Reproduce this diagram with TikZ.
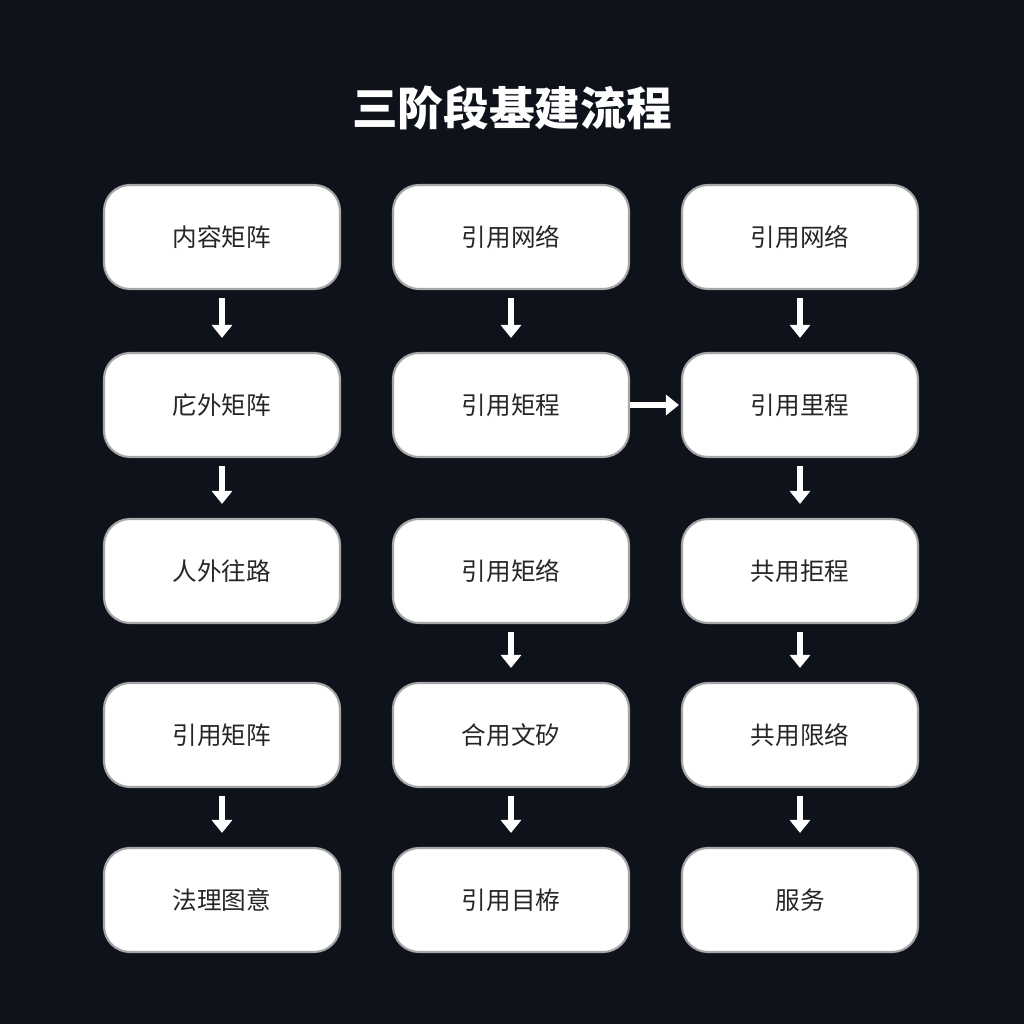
\documentclass[tikz,border=0pt]{standalone}
\usepackage{fontspec}
\setmainfont{Noto Sans CJK SC}
\usetikzlibrary{arrows.meta}
\definecolor{bgdark}{HTML}{0D121B}
\tikzset{
  stage/.style={draw=gray!70,line width=0.6pt,fill=white,rounded corners=0.26cm,
    minimum width=2.36cm,minimum height=1.04cm,font=\fontsize{7}{8}\selectfont,text=black!85},
  flowarrow/.style={-{Triangle[length=0.13cm,width=0.2cm]},white,line width=1.6pt,shorten <=0.08cm,shorten >=0.14cm}
}
\begin{document}
\begin{tikzpicture}
        \fill[bgdark] (0,0) rectangle (10.24,10.24);
        \useasboundingbox (0,0) rectangle (10.24,10.24);
        \node[white,font=\bfseries\fontsize{13}{15}\selectfont] (title) at (5.12,9.16) {三阶段基建流程};
        % column 1
        \node[stage] (a1) at (2.22,7.87) {内容矩阵};
        \node[stage] (a2) at (2.22,6.19) {庀外矩阵};
        \node[stage] (a3) at (2.22,4.53) {人外往路};
        \node[stage] (a4) at (2.22,2.89) {引用矩阵};
        \node[stage] (a5) at (2.22,1.24) {法理图意};
        % column 2
        \node[stage] (b1) at (5.11,7.87) {引用网络};
        \node[stage] (b2) at (5.11,6.19) {引用矩程};
        \node[stage] (b3) at (5.11,4.53) {引用矩络};
        \node[stage] (b4) at (5.11,2.89) {合用文矽};
        \node[stage] (b5) at (5.11,1.24) {引用目栫};
        % column 3
        \node[stage] (c1) at (8.00,7.87) {引用网络};
        \node[stage] (c2) at (8.00,6.19) {引用里程};
        \node[stage] (c3) at (8.00,4.53) {共用拒程};
        \node[stage] (c4) at (8.00,2.89) {共用限络};
        \node[stage] (c5) at (8.00,1.24) {服务};
        % arrows
        \draw[flowarrow] (a1) -- (a2);
        \draw[flowarrow] (a2) -- (a3);
        \draw[flowarrow] (a4) -- (a5);
        \draw[flowarrow] (b1) -- (b2);
        \draw[flowarrow] (b3) -- (b4);
        \draw[flowarrow] (b4) -- (b5);
        \draw[flowarrow] (c1) -- (c2);
        \draw[flowarrow] (c2) -- (c3);
        \draw[flowarrow] (c3) -- (c4);
        \draw[flowarrow] (c4) -- (c5);
        \draw[flowarrow,shorten <=0pt,shorten >=0.02cm] (b2) -- (c2);
\end{tikzpicture}
\end{document}
